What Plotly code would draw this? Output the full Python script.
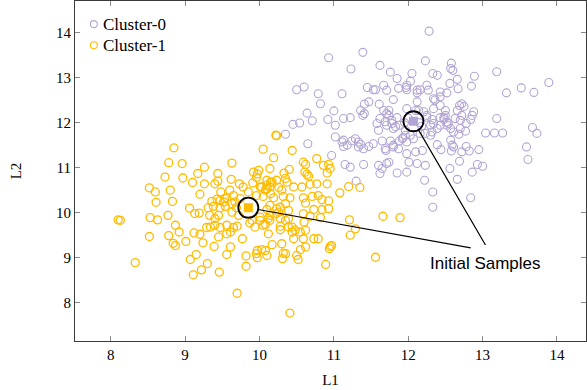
import plotly.graph_objects as go

# ---------------- data ----------------
c0_x = [12.28,10.93,11.39,11.23,12.23,11.62,11.76,11.85,12.05,12.58,12.57,12.60,12.33,12.39,12.66,
        10.50,10.60,10.79,11.11,10.82,11.45,11.53,11.56,11.67,11.71,11.87,11.97,11.98,12.03,12.12,
        12.16,12.25,12.27,12.43,12.52,12.34,12.43,11.80,11.36,11.41,11.47,11.61,11.00,10.64,10.45,
        10.54,10.71,10.92,11.13,11.22,11.39,11.41,11.74,11.71,11.98,12.12,12.14,12.21,12.25,12.34,
        12.43,12.50,12.66,12.69,11.58,11.71,11.85,11.89,11.78,12.30,12.34,12.48,12.52,12.89,13.19,
        12.56,12.67,12.36,12.85,13.32,13.52,13.69,13.89,12.72,12.75,12.50,12.48,12.63,12.72,12.88,
        12.86,12.84,13.19,13.67,12.54,12.57,12.70,12.77,12.68,12.61,13.04,13.16,13.27,13.73,13.59,
        13.61,12.32,12.23,12.39,12.44,12.19,12.57,12.59,12.58,12.61,12.72,12.78,12.82,12.95,12.69,
        12.23,12.56,12.93,13.00,12.86,12.66,12.22,12.33,12.84,12.33,11.98,12.12,12.10,12.25,12.32,
        12.43,12.52,11.67,11.74,11.62,11.69,11.78,11.83,11.95,12.00,12.15,12.18,11.60,11.80,11.96,
        11.13,11.24,11.29,11.18,11.33,11.36,11.40,11.47,11.53,11.65,11.69,11.76,11.80,11.92,11.96,
        11.98,12.03,12.07,12.16,12.30,12.39,12.43,12.70,12.78,10.35,10.65,10.97,11.15,11.22,11.40,
        11.60,11.65,11.71,11.74,11.30,11.62,11.85,11.98,12.01,12.12,11.70,11.80,11.87,11.98,12.10,
        11.88,11.93,11.02,11.11,11.13,11.33,11.02]
c0_y = [14.03,13.44,13.56,13.19,13.37,13.27,13.12,12.98,13.09,13.32,13.20,13.16,13.09,13.05,12.96,
        12.73,12.79,12.64,12.64,12.42,12.78,12.73,12.73,12.83,12.72,12.76,12.78,12.73,12.92,12.72,
        12.73,12.83,12.72,12.68,12.66,12.53,12.57,12.51,12.27,12.41,12.46,12.41,12.26,12.21,11.96,
        11.99,12.04,12.07,12.09,12.11,12.16,12.20,12.27,12.20,12.31,12.46,12.27,12.24,12.12,12.31,
        12.38,12.27,12.27,12.38,11.98,11.94,12.11,11.94,11.98,11.94,11.98,12.12,11.94,13.03,13.13,
        12.87,12.75,12.50,12.81,12.66,12.77,12.67,12.89,12.42,12.36,12.16,12.07,12.09,12.16,12.24,
        12.16,12.07,12.09,11.89,11.98,11.87,12.05,11.81,11.74,11.79,11.77,11.77,11.77,11.76,11.46,
        11.18,11.79,11.76,11.51,11.40,11.38,11.61,11.50,11.37,11.46,11.35,11.47,11.37,11.40,11.14,
        11.05,10.98,11.07,11.03,10.90,10.74,10.72,10.46,10.33,10.12,12.83,12.66,12.27,12.16,12.07,
        12.11,12.01,12.27,12.16,12.09,12.02,12.05,11.91,12.00,12.10,12.00,11.92,11.83,11.87,11.83,
        11.61,11.59,11.64,11.50,11.46,11.52,11.42,11.47,11.53,11.59,11.42,11.59,11.46,11.64,11.72,
        11.57,11.72,11.64,11.76,11.72,11.87,11.94,11.87,11.98,11.74,11.53,11.27,11.07,11.01,11.07,
        11.05,10.98,11.09,11.12,10.70,10.87,10.88,10.90,11.12,11.09,11.38,11.50,11.42,11.31,11.35,
        11.59,11.67,11.68,11.57,11.47,11.57,11.94]

c1_x = [8.85,8.78,8.96,9.26,9.63,10.05,9.17,9.44,8.73,8.97,9.10,9.26,9.40,9.44,9.62,9.92,9.99,9.96,
        9.91,10.14,9.73,9.78,8.52,8.60,8.80,9.20,9.48,9.60,9.65,9.85,9.96,10.05,10.10,8.61,8.83,9.47,
        9.53,9.52,9.56,9.63,9.67,9.74,9.06,9.13,9.19,9.31,9.38,9.47,9.54,9.33,9.40,9.45,9.63,9.69,
        9.72,8.53,8.63,8.77,8.10,8.13,8.87,9.90,10.01,10.05,10.14,8.92,8.52,8.78,8.84,8.87,9.01,9.12,
        9.20,9.24,9.29,9.34,9.40,9.47,9.56,9.65,9.70,9.45,9.56,9.61,9.39,9.61,9.77,9.87,9.94,10.12,
        9.15,9.07,9.30,9.22,9.11,9.46,9.56,9.82,9.82,9.96,9.97,10.03,10.10,8.33,9.70,10.17,10.28,
        10.30,10.32,10.31,10.44,10.44,10.46,10.55,10.59,10.62,10.50,10.52,10.55,10.62,10.73,10.79,
        10.95,10.97,10.94,10.89,10.41,11.22,11.29,11.56,10.60,10.22,10.23,10.44,10.19,10.59,10.62,
        10.77,10.86,10.93,10.33,10.40,10.61,10.64,10.66,10.91,10.95,10.10,10.17,10.23,10.35,10.37,
        10.03,10.08,10.14,10.26,10.30,10.46,10.57,10.68,10.77,10.91,11.08,11.20,11.35,10.19,10.32,
        10.41,10.59,10.62,10.71,10.79,10.84,10.93,10.73,10.84,10.93,10.10,10.23,10.39,10.59,10.68,
        10.82,11.21,11.66,11.89,10.01,10.08,10.12,10.14,10.23,10.28,10.35,10.39,10.28,10.39,10.48,
        10.14,10.28,10.35,10.26,9.97,10.08,10.35,9.97,10.01,10.10,10.15,10.15,9.36,9.43]
c1_y = [11.44,11.11,11.09,11.01,11.10,11.41,10.87,10.87,10.79,10.77,10.67,10.64,10.64,10.70,10.74,
        10.90,10.94,10.78,10.66,10.98,10.64,10.57,10.55,10.46,10.50,10.41,10.46,10.50,10.38,10.46,
        10.38,10.36,10.53,10.23,10.25,10.27,10.31,10.24,10.33,10.20,10.24,10.31,10.10,9.98,9.99,
        10.11,10.14,10.11,10.14,9.94,9.87,9.94,10.01,10.11,9.94,9.89,9.84,9.94,9.84,9.83,9.72,9.83,
        9.90,9.72,9.83,9.57,9.47,9.49,9.32,9.27,9.36,9.55,9.52,9.33,9.67,9.68,9.72,9.67,9.72,9.67,
        9.70,9.46,9.53,9.57,9.25,9.24,9.42,9.77,9.68,9.53,9.07,8.96,8.87,8.73,8.62,8.68,9.07,9.04,
        8.81,9.09,9.16,9.18,9.05,8.89,8.21,9.29,9.62,9.31,9.10,8.98,9.68,9.57,9.42,9.57,9.42,9.61,
        9.05,8.96,9.18,9.24,9.42,9.42,9.25,9.27,9.20,8.85,7.77,9.50,9.64,9.01,9.79,11.72,11.71,11.38,
        11.22,11.12,11.07,11.20,11.05,11.07,10.88,10.96,10.90,10.85,10.81,10.88,10.98,10.72,10.68,
        10.72,10.76,10.68,10.57,10.50,10.57,10.56,10.50,10.57,10.57,10.63,10.64,10.64,10.44,10.58,
        10.56,10.33,10.36,10.33,10.33,10.21,10.36,10.38,10.29,10.26,10.07,10.07,10.09,10.07,10.09,
        10.05,9.98,9.92,9.89,9.84,9.92,9.89,9.83,9.74,9.87,9.94,9.98,9.87,9.83,9.87,9.70,9.68,9.61,
        10.16,10.12,10.20,10.01,9.00,9.16,9.09,10.86,10.57,10.61,10.68,10.42,10.25,10.30]

sample_x = [12.07, 9.85]
sample_y = [12.03, 10.11]
series_names = ["Cluster-0", "Cluster-1"]
label_text = "Initial Samples"

# ---------------- style ----------------
PURPLE = "#b3a5d3"
YELLOW = "#ffbb00"
SERIF = "Liberation Serif"
colors = [PURPLE, YELLOW]

fig = go.Figure()
fig.add_trace(go.Scatter(x=c0_x, y=c0_y, mode="markers", name=series_names[0], showlegend=False,
                         marker=dict(symbol="circle-open", size=8, color=PURPLE, line=dict(width=1.1))))
fig.add_trace(go.Scatter(x=c1_x, y=c1_y, mode="markers", name=series_names[1], showlegend=False,
                         marker=dict(symbol="circle-open", size=8, color=YELLOW, line=dict(width=1.3))))
# initial samples: filled squares + black circles
fig.add_trace(go.Scatter(x=sample_x, y=sample_y, mode="markers", showlegend=False,
                         marker=dict(symbol="square", size=9, color=colors, line=dict(width=0))))
fig.add_trace(go.Scatter(x=sample_x, y=sample_y, mode="markers", showlegend=False,
                         marker=dict(symbol="circle-open", size=20, color="black", line=dict(width=1.8))))

# connecting lines to label
line_ends = [(13.05, 9.25), (12.86, 9.21)]
for (sx, sy), (ex, ey) in zip(zip(sample_x, sample_y), line_ends):
    fig.add_annotation(x=sx, y=sy, ax=ex, ay=ey, xref="x", yref="y", axref="x", ayref="y",
                       text="", showarrow=True, arrowhead=0, arrowwidth=1.2, arrowcolor="black",
                       standoff=10)
fig.add_annotation(x=13.04, y=8.87, xref="x", yref="y", text=label_text, showarrow=False,
                   font=dict(family="Liberation Sans", size=17, color="black"))

# manual legend (compact, pgfplots-like)
legend_y = [0.932, 0.870]
for name, col, ly in zip(series_names, colors, legend_y):
    fig.add_shape(type="circle", xref="paper", yref="paper", xsizemode="pixel", ysizemode="pixel",
                  xanchor=0.037, yanchor=ly, x0=-3.5, x1=3.5, y0=-3.5, y1=3.5,
                  line=dict(color=col, width=1.1), fillcolor="rgba(0,0,0,0)")
    fig.add_annotation(x=0.050, y=ly, xref="paper", yref="paper", text=name, showarrow=False,
                       xanchor="left", yanchor="middle",
                       font=dict(family=SERIF, size=17, color="black"))

axis_common = dict(showline=True, linecolor="#3a3a3a", linewidth=1, mirror="ticks",
                   ticks="inside", ticklen=5, tickcolor="#8a8a8a", showgrid=False, zeroline=False,
                   tickfont=dict(family=SERIF, size=15, color="black"))
fig.update_xaxes(range=[7.52, 14.39], dtick=1, title=dict(text="L1", standoff=12,
                 font=dict(family=SERIF, size=15, color="black")), **axis_common)
fig.update_yaxes(range=[7.15, 14.70], dtick=1, title=dict(text="L2", standoff=30,
                 font=dict(family=SERIF, size=15, color="black")), **axis_common)

fig.update_layout(width=587, height=390, margin=dict(l=75, r=1, t=1, b=49),
                  plot_bgcolor="white", paper_bgcolor="white", showlegend=False)
fig.write_html("out.html", config={"displayModeBar": False},
               post_script="document.body.style.margin='0';")
